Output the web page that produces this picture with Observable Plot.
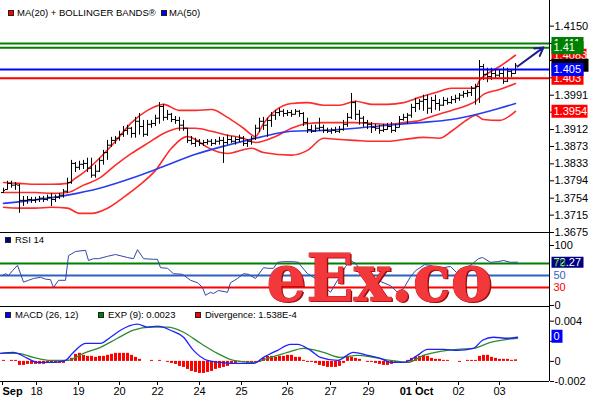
<!DOCTYPE html>
<html><head><meta charset="utf-8">
<script src="https://cdn.jsdelivr.net/npm/d3@7"></script>
<script src="https://cdn.jsdelivr.net/npm/@observablehq/plot@0.6"></script>
<style>
body{margin:0;background:#fff;}
#wrap{position:relative;width:590px;height:400px;overflow:hidden;background:#fff;font-family:"Liberation Sans",Arial,sans-serif;}
.panel{position:absolute;left:0;}
.panel svg{overflow:visible;display:block;}
.leg{position:absolute;font-size:9.5px;line-height:12px;white-space:nowrap;color:#000;font-family:"Liberation Sans",Arial,sans-serif;}
.sq{position:absolute;width:4px;height:4px;border:1px solid #222;}
</style></head>
<body><div id="wrap"></div>
<script>
// ---------- DATA ----------
const open = [1.3767,1.3774,1.3788,1.3784,1.3784,1.3749,1.3749,1.3751,1.3749,1.3751,
1.3754,1.3751,1.3756,1.3751,1.3756,1.3761,1.3770,1.3790,1.3834,1.3825,
1.3832,1.3834,1.3823,1.3807,1.3816,1.3841,1.3859,1.3876,1.3887,1.3892,
1.3901,1.3910,1.3915,1.3903,1.3931,1.3919,1.3901,1.3924,1.3926,1.3938,
1.3965,1.3940,1.3947,1.3935,1.3933,1.3922,1.3915,1.3887,1.3880,1.3885,
1.3880,1.3882,1.3885,1.3880,1.3885,1.3887,1.3882,1.3889,1.3885,1.3889,
1.3892,1.3880,1.3885,1.3892,1.3915,1.3931,1.3922,1.3933,1.3945,1.3951,
1.3954,1.3949,1.3951,1.3947,1.3954,1.3949,1.3928,1.3912,1.3908,1.3915,
1.3917,1.3910,1.3908,1.3910,1.3908,1.3912,1.3924,1.3940,1.3974,1.3947,
1.3938,1.3928,1.3924,1.3917,1.3915,1.3910,1.3912,1.3919,1.3910,1.3917,
1.3935,1.3940,1.3945,1.3963,1.3972,1.3977,1.3981,1.3961,1.3979,1.3972,
1.3968,1.3979,1.3974,1.3981,1.3984,1.3991,1.3995,1.3997,1.4007,1.4011,
1.4057,1.4039,1.4034,1.4041,1.4037,1.4041,1.4023,1.4046,1.4041];
const high = [1.3777,1.3793,1.3793,1.3790,1.3786,1.3758,1.3758,1.3756,1.3756,1.3758,
1.3758,1.3761,1.3765,1.3761,1.3765,1.3774,1.3800,1.3841,1.3836,1.3839,
1.3841,1.3846,1.3846,1.3830,1.3846,1.3864,1.3887,1.3894,1.3896,1.3908,
1.3919,1.3922,1.3917,1.3940,1.3949,1.3933,1.3933,1.3933,1.3945,1.3974,
1.3970,1.3956,1.3949,1.3942,1.3940,1.3933,1.3915,1.3896,1.3892,1.3889,
1.3887,1.3889,1.3889,1.3889,1.3894,1.3894,1.3899,1.3896,1.3894,1.3899,
1.3896,1.3889,1.3896,1.3922,1.3938,1.3940,1.3938,1.3951,1.3956,1.3961,
1.3958,1.3956,1.3956,1.3958,1.3956,1.3951,1.3938,1.3922,1.3922,1.3938,
1.3922,1.3915,1.3915,1.3917,1.3919,1.3933,1.3949,1.3995,1.3977,1.3956,
1.3942,1.3933,1.3928,1.3924,1.3922,1.3924,1.3926,1.3928,1.3924,1.3942,
1.3947,1.3949,1.3970,1.3984,1.3981,1.3991,1.3991,1.3986,1.3991,1.3981,
1.3986,1.3984,1.3988,1.3991,1.3995,1.4000,1.4002,1.4011,1.4016,1.4071,
1.4062,1.4053,1.4053,1.4048,1.4050,1.4055,1.4053,1.4048,1.4064];
const low = [1.3765,1.3772,1.3777,1.3772,1.3719,1.3735,1.3740,1.3742,1.3742,1.3744,
1.3744,1.3747,1.3735,1.3744,1.3751,1.3754,1.3765,1.3786,1.3813,1.3818,
1.3820,1.3813,1.3800,1.3800,1.3813,1.3830,1.3841,1.3871,1.3878,1.3885,
1.3894,1.3899,1.3892,1.3892,1.3899,1.3894,1.3896,1.3915,1.3919,1.3924,
1.3931,1.3933,1.3928,1.3924,1.3908,1.3908,1.3880,1.3876,1.3871,1.3873,
1.3873,1.3876,1.3873,1.3876,1.3876,1.3834,1.3876,1.3880,1.3876,1.3882,
1.3873,1.3871,1.3876,1.3887,1.3905,1.3910,1.3894,1.3917,1.3933,1.3942,
1.3940,1.3942,1.3940,1.3945,1.3940,1.3919,1.3903,1.3903,1.3905,1.3908,
1.3903,1.3903,1.3901,1.3903,1.3903,1.3908,1.3917,1.3935,1.3933,1.3922,
1.3917,1.3912,1.3903,1.3908,1.3901,1.3905,1.3910,1.3903,1.3905,1.3915,
1.3931,1.3924,1.3938,1.3951,1.3956,1.3954,1.3947,1.3949,1.3956,1.3954,
1.3965,1.3968,1.3970,1.3972,1.3977,1.3984,1.3986,1.3988,1.3968,1.3972,
1.4025,1.4020,1.4025,1.4030,1.4032,1.4016,1.4020,1.4032,1.4039];
const close = [1.3772,1.3788,1.3784,1.3786,1.3749,1.3749,1.3751,1.3749,1.3751,1.3754,
1.3751,1.3756,1.3751,1.3756,1.3761,1.3770,1.3790,1.3834,1.3825,1.3832,
1.3834,1.3823,1.3807,1.3816,1.3841,1.3859,1.3876,1.3887,1.3892,1.3901,
1.3910,1.3915,1.3903,1.3931,1.3919,1.3901,1.3924,1.3926,1.3938,1.3965,
1.3940,1.3947,1.3935,1.3933,1.3922,1.3915,1.3887,1.3880,1.3885,1.3880,
1.3882,1.3885,1.3880,1.3885,1.3887,1.3882,1.3889,1.3885,1.3889,1.3892,
1.3880,1.3885,1.3892,1.3915,1.3931,1.3922,1.3933,1.3945,1.3951,1.3954,
1.3949,1.3951,1.3947,1.3954,1.3949,1.3928,1.3912,1.3908,1.3915,1.3917,
1.3910,1.3908,1.3910,1.3908,1.3912,1.3924,1.3940,1.3974,1.3947,1.3938,
1.3928,1.3924,1.3917,1.3915,1.3910,1.3912,1.3919,1.3910,1.3917,1.3935,
1.3940,1.3945,1.3963,1.3972,1.3977,1.3981,1.3961,1.3979,1.3972,1.3968,
1.3979,1.3974,1.3981,1.3984,1.3991,1.3995,1.3997,1.4007,1.4011,1.4057,
1.4039,1.4034,1.4041,1.4037,1.4041,1.4023,1.4046,1.4041,1.4060];

const upperIdx = [0,4,8,12,16,18,20,24,28,32,36,40,44,48,52,56,60,63,65,68,72,76,80,84,88,92,96,100,104,108,112,116,118,119,120,124,128];
const upperBand = [1.3790,1.3788,1.3786,1.3786,1.3788,1.3800,1.3813,1.3846,1.3885,1.3928,1.3956,1.3970,1.3956,1.3956,1.3958,1.3940,1.3915,1.3896,1.3926,1.3956,1.3972,1.3974,1.3968,1.3968,1.3977,1.3970,1.3970,1.3974,1.3986,1.3997,1.4007,1.4007,1.4007,1.4025,1.4034,1.4057,1.4083];
const midIdx = [0,4,8,12,16,20,24,28,32,36,40,44,48,52,56,60,63,68,72,76,80,84,88,92,96,100,104,108,112,116,118,120,124,128];
const ma20 = [1.3767,1.3767,1.3767,1.3765,1.3767,1.3784,1.3800,1.3830,1.3857,1.3880,1.3903,1.3915,1.3915,1.3908,1.3899,1.3892,1.3882,1.3896,1.3915,1.3926,1.3928,1.3928,1.3928,1.3926,1.3924,1.3928,1.3933,1.3945,1.3956,1.3968,1.3977,1.3993,1.4004,1.4018];
const lowerIdx = [0,4,8,12,16,19,22,26,30,34,38,42,46,48,51,56,62,65,72,76,80,84,88,92,96,100,105,109,112,116,118,120,124,128];
const lowerBand = [1.3733,1.3731,1.3731,1.3733,1.3731,1.3719,1.3719,1.3731,1.3756,1.3784,1.3818,1.3869,1.3896,1.3889,1.3871,1.3857,1.3869,1.3859,1.3853,1.3864,1.3892,1.3889,1.3887,1.3885,1.3885,1.3889,1.3894,1.3892,1.3908,1.3935,1.3945,1.3935,1.3933,1.3954];
const ma50Idx = [0,16,24,32,40,48,56,64,72,80,88,96,104,112,116,124,128];
const ma50 = [1.3742,1.3761,1.3777,1.3800,1.3827,1.3855,1.3876,1.3894,1.3908,1.3910,1.3915,1.3922,1.3928,1.3935,1.3942,1.3961,1.3972];

const levels = [1.411, 1.41, 1.405, 1.403];
const trendFrom = [128.5, 1.4057];
const trendTo = [135, 1.4101];

const priceTicks = [1.3675,1.3715,1.3754,1.3794,1.3833,1.3873,1.3912,1.3952,1.3991,1.4031,1.4071,1.4110,1.4150];
const priceTickLabels = ["1.3675","1.3715","1.3754","1.3794","1.3833","1.3873","1.3912","","1.3991","","","","1.4150"];
const priceLabelValues = [1.4083, 1.411, 1.41, 1.403, 1.4060, 1.405, 1.3954];
const priceLabelTexts  = ["1.4083", "1.411", "1.41", "1.403", "", "1.405", "1.3954"];

const rsiIdx = [-0.25,0.5,1.25,2.25,3.5,5,6.25,7.5,9.25,10.5,11.75,12.5,13.75,15.5,16.25,18,20.5,21.25,22.5,23.75,26,28,31,32.5,33.5,35,37.5,38.5,39.25,41,42.5,44.75,46.75,48.5,49.75,50.5,51.75,52.5,53.75,56,56.75,58.5,60,61.25,63,65,66.25,67.5,68.5,70,72.5,73.75,74.25,76,78,79.75,81.75,83.75,85.5,86.75,88,89.75,91.75,94.25,96.75,98.5,100,101.75,103,105.25,106.75,108,110,111.75,113.25,115.5,116.75,118.75,119.75,121.75,123.5,125,126.75,128.5];
const rsi = [50,53,50,58,67,39,42,45,47,44,43,30,42,42,83,90,92,75,78,78,82,85,80,78,93,78,77,77,63,62,53,52,42,38,30,17,22,20,25,22,38,45,53,52,45,63,62,62,72,73,73,72,67,53,45,35,22,45,65,75,70,55,45,40,33,22,28,48,58,68,67,63,63,65,55,63,67,78,80,72,73,75,72,72.27];
const rsiLevels = [70, 50, 30];
const rsiTicks = [0, 100];

const macdIdx = [-0.75,2.5,3.5,6,8.5,12.5,15.5,17.25,20.5,24.25,26.75,29.25,33.5,36,38.5,41.75,45,47.5,51,54.25,57.5,62.5,65,68.5,71.75,73.5,76.75,79.25,83.5,87.5,91,94.25,96.75,100,103.5,106,110,113.5,117.5,119.75,122.5,126,128.5];
const macd = [0.0008,0.0009,0.0008,0.0003,-0.0001,-0.0001,0.0001,0.0008,0.0018,0.0018,0.0024,0.0031,0.0037,0.0034,0.0035,0.0031,0.0024,0.0011,0.0001,-0.0001,-0.0002,-0.0002,0.0004,0.0011,0.0017,0.0017,0.0011,0.0004,0.0001,0.0009,0.0006,0.0003,-0.0001,-0.0001,0.0006,0.0012,0.0012,0.0011,0.0013,0.0021,0.0024,0.0023,0.0024];
const sigIdx = [-0.75,3.5,7.5,11.75,16,20,24.25,28.5,32.5,36.75,41,45,49.25,53.5,57.5,62.5,66,71,75,80,84.25,88.5,92.5,96.75,101,105,109.25,113.5,117.5,121.75,126,128.5];
const signal = [0.0008,0.0008,0.0004,0.0001,0.0001,0.0008,0.0014,0.0023,0.0031,0.0034,0.0034,0.0029,0.0018,0.0008,0.0001,-0.0001,0.0003,0.0009,0.0013,0.0009,0.0004,0.0006,0.0004,0.0001,-0.0001,0.0006,0.0010,0.0012,0.0013,0.0019,0.0022,0.0023];
const divergence = [0.0001,0,0.0001,0.0001,-0.0004,-0.0004,-0.0003,-0.0003,-0.0003,-0.0003,
-0.0003,-0.0002,-0.0002,-0.0002,-0.0002,-0.0002,0.0001,0.0003,0.0007,0.0008,
0.0006,0.0005,0.0005,0.0004,0.0005,0.0005,0.0006,0.0007,0.0008,0.0008,
0.0008,0.0008,0.0006,0.0004,0.0002,0,0,0.0001,0,0.0001,
0,-0.0001,-0.0002,-0.0003,-0.0005,-0.0006,-0.0008,-0.0010,-0.0011,-0.0012,
-0.0012,-0.0011,-0.0010,-0.0008,-0.0007,-0.0006,-0.0005,-0.0003,-0.0002,-0.0001,
-0.0001,-0.0002,-0.0002,-0.0002,-0.0001,0.0003,0.0005,0.0005,0.0004,0.0005,
0.0005,0.0006,0.0006,0.0004,0.0004,0.0001,-0.0001,-0.0001,-0.0002,-0.0004,
-0.0005,-0.0006,-0.0006,-0.0006,-0.0005,-0.0002,0.0004,0.0004,0.0003,0.0002,
0,-0.0001,-0.0001,-0.0002,-0.0003,-0.0004,-0.0004,-0.0003,-0.0002,0,
0,0.0001,0.0003,0.0004,0.0005,0.0006,0.0005,0.0003,0.0002,0.0002,
0.0001,0.0001,0,0,-0.0001,0,0.0001,0.0001,0.0001,0.0005,
0.0006,0.0006,0.0004,0.0003,0.0002,0.0002,0.0002,0.0001,0.0001538];
const macdTicks = [-0.002, 0, 0.002, 0.004];
const macdTickLabels = ["-0.002", "0", "", "0.004"];
const macdLast = 0.0025;

const dateTickIdx = [-0.25, 8.25, 18.75, 29, 38.5, 49, 59.5, 71, 81.75, 91.25, 103.25, 113.75, 124];
const dateTickLabels = ["Sep","18","19","20","22","24","25","26","27","29","01 Oct","02","03"];

const priceLegend = ["MA(20) + BOLLINGER BANDS®", "MA(50)"];
const rsiLegend = ["RSI 14"];
const macdLegend = ["MACD (26, 12)", "EXP (9): 0.0023", "Divergence: 1.538E-4"];
const watermark = "eEx.co";

// ---------- STYLE / LAYOUT ----------
const xDomain = [-0.75, 136.5];
const priceDomain = [1.3675, 1.4209];
const rsiDomain = [-1.67, 121.67];
const macdDomain = [-0.002, 0.00546];
const FONT = "Liberation Sans, Arial, Helvetica, sans-serif";
const svgStyle = {fontFamily: FONT, fontSize: "11px", background: "transparent", overflow: "visible", color: "black"};
const levelColors = ["#008000", "#008000", "#0000ff", "#ff0000"];
const priceLabelColors = ["#ff0000", "#008000", "#008000", "#ff0000", "#000000", "#0000ff", "#ff0000"];
const priceLabelWidths = [35, 32, 32, 32, 37, 32, 36];
const rsiLevelColors = ["#008000", "#3060c0", "#ff0000"];
const BAND = "#ff2a2a";

const wrap = document.getElementById("wrap");
const pts = (idx, vals) => idx.map((x, k) => ({x, y: vals[k]}));
const box = (w, h) => ({draw(ctx) { ctx.moveTo(2, -h / 2); ctx.lineTo(2 + w, -h / 2); ctx.lineTo(2 + w, h / 2); ctx.lineTo(2, h / 2); ctx.closePath(); }});
function place(svg, top) {
  const d = document.createElement("div");
  d.className = "panel"; d.style.top = top + "px";
  d.appendChild(svg); wrap.appendChild(d);
  return svg;
}
function labelMarks(values, texts, colors, widths, h, textColor) {
  const m = [];
  values.forEach((v, k) => {
    m.push(Plot.dot([v], {y: d => d, frameAnchor: "right", symbol: box(widths[k], h), fill: colors[k], stroke: "none"}));
    if (texts[k]) m.push(Plot.text([v], {y: d => d, frameAnchor: "right", text: () => texts[k], textAnchor: "start", dx: 4, fill: textColor, fontSize: 11}));
  });
  return m;
}

const bars = open.map((o, i) => ({i, open: o, high: high[i], low: low[i], close: close[i]}));

// ---------- PRICE PANEL ----------
const priceSvg = Plot.plot({
  width: 590, height: 232, marginTop: 0, marginBottom: 0, marginLeft: 0, marginRight: 41,
  style: svgStyle,
  x: {domain: xDomain, axis: null},
  y: {domain: priceDomain, axis: "right", ticks: priceTicks, tickFormat: d => priceTickLabels[priceTicks.indexOf(d)], tickSize: 4, tickPadding: 1, label: null},
  marks: [
    Plot.ruleY([priceTicks[0]], {stroke: "black"}),
    Plot.ruleX([xDomain[1]], {stroke: "black"}),
    Plot.line(pts(upperIdx, upperBand), {x: "x", y: "y", stroke: BAND, strokeWidth: 1.6, curve: "monotone-x"}),
    Plot.line(pts(midIdx, ma20), {x: "x", y: "y", stroke: BAND, strokeWidth: 1.6, curve: "monotone-x"}),
    Plot.line(pts(lowerIdx, lowerBand), {x: "x", y: "y", stroke: BAND, strokeWidth: 1.6, curve: "monotone-x"}),
    Plot.line(pts(ma50Idx, ma50), {x: "x", y: "y", stroke: "#2a3cf0", strokeWidth: 1.6, curve: "monotone-x"}),
    Plot.ruleX(bars, {x: "i", y1: "low", y2: "high", stroke: "black"}),
    Plot.ruleY(bars, {y: "open", x1: d => d.i - 0.5, x2: "i", stroke: "black"}),
    Plot.ruleY(bars, {y: "close", x1: "i", x2: d => d.i + 0.5, stroke: "black"}),
    ...levels.map((v, k) => Plot.ruleY([v], {stroke: levelColors[k], strokeWidth: 2})),
    Plot.arrow([0], {x1: () => trendFrom[0], y1: () => trendFrom[1], x2: () => trendTo[0], y2: () => trendTo[1], stroke: "#1c1c8c", strokeWidth: 2, headLength: 7}),
    ...labelMarks(priceLabelValues, priceLabelTexts, priceLabelColors, priceLabelWidths, 13, "white")
  ]
});
place(priceSvg, 0);

// ---------- RSI PANEL ----------
const rsiSvg = Plot.plot({
  width: 590, height: 74, marginTop: 0, marginBottom: 0, marginLeft: 0, marginRight: 41,
  style: svgStyle,
  x: {domain: xDomain, axis: null},
  y: {domain: rsiDomain, axis: "right", ticks: rsiTicks, tickFormat: d => String(d), tickSize: 4, tickPadding: 1, label: null},
  marks: [
    Plot.ruleY([rsiDomain[0]], {stroke: "black"}),
    Plot.ruleX([xDomain[1]], {stroke: "black"}),
    ...rsiLevels.map((v, k) => Plot.ruleY([v], {stroke: rsiLevelColors[k], strokeWidth: 2})),
    Plot.line(pts(rsiIdx, rsi), {x: "x", y: "y", stroke: "#3545a5", strokeWidth: 1}),
    Plot.dot([rsi[rsi.length - 1]], {y: d => d, frameAnchor: "right", symbol: box(32, 11), fill: "#000080", stroke: "none"}),
    Plot.text([rsi[rsi.length - 1]], {y: d => d, frameAnchor: "right", text: d => d.toFixed(2), textAnchor: "start", dx: 4, fill: "white", fontSize: 11}),
    ...rsiLevels.map((v, k) => Plot.text([v], {y: d => d, frameAnchor: "right", text: d => String(d), textAnchor: "start", dx: 4, fill: rsiLevelColors[k], fontSize: 11})),
    Plot.text([watermark], {x: () => 94, y: () => 43, text: d => d, dx: 1.5, dy: 1.5, fontSize: 66, fontWeight: "bold", fontFamily: "DejaVu Serif, serif", fill: "#8e0c0c"}),
    Plot.text([watermark], {x: () => 94, y: () => 43, text: d => d, fontSize: 66, fontWeight: "bold", fontFamily: "DejaVu Serif, serif", fill: "#f3383c", stroke: "#c81820", strokeWidth: 1})
  ]
});
place(rsiSvg, 232);

// ---------- MACD PANEL ----------
const macdSvg = Plot.plot({
  width: 590, height: 94, marginTop: 0, marginBottom: 19, marginLeft: 0, marginRight: 41,
  style: svgStyle,
  x: {domain: xDomain, ticks: dateTickIdx, tickFormat: d => dateTickLabels[dateTickIdx.indexOf(d)], tickSize: 4, tickPadding: 2, label: null},
  y: {domain: macdDomain, axis: "right", ticks: macdTicks, tickFormat: d => macdTickLabels[macdTicks.indexOf(d)], tickSize: 4, tickPadding: 1, label: null},
  marks: [
    Plot.ruleY([macdDomain[0]], {stroke: "black"}),
    Plot.ruleX([xDomain[1]], {stroke: "black"}),
    Plot.ruleX(divergence, {x: (d, i) => i, y1: 0, y2: d => d, stroke: "#ff0000", strokeWidth: 3}),
    Plot.line(pts(sigIdx, signal), {x: "x", y: "y", stroke: "#2e8b2e", strokeWidth: 1.3, curve: "monotone-x"}),
    Plot.line(pts(macdIdx, macd), {x: "x", y: "y", stroke: "#2020ff", strokeWidth: 1.3, curve: "monotone-x"}),
    Plot.dot([macdLast], {y: d => d, frameAnchor: "right", symbol: box(11, 13), fill: "#0000ff", stroke: "none"}),
    Plot.text([macdLast], {y: d => d, frameAnchor: "right", text: () => "0", textAnchor: "start", dx: 4, fill: "white", fontSize: 11})
  ]
});
place(macdSvg, 306);

// post-process: fonts and bold date labels, watermark width
[priceSvg, rsiSvg, macdSvg].forEach(svg => {
  d3.select(svg).selectAll("text").each(function () {
    const t = this.textContent;
    if (t === watermark) { this.setAttribute("textLength", 226); this.setAttribute("lengthAdjust", "spacingAndGlyphs"); return; }
    if (!this.getAttribute("font-size")) this.style.fontSize = "11px";
    if (svg === macdSvg && dateTickLabels.includes(t)) {
      if (t === "Sep" || t === "01 Oct") this.style.fontWeight = "bold";
      if (t === "Sep") this.setAttribute("text-anchor", "start");
    }
  });
});

// ---------- LEGENDS ----------
function legendItem(sqX, cy, color, textX, text) {
  const s = document.createElement("div"); s.className = "sq";
  s.style.left = sqX + "px"; s.style.top = (cy - 3) + "px"; s.style.background = color; wrap.appendChild(s);
  const t = document.createElement("div"); t.className = "leg";
  t.style.left = textX + "px"; t.style.top = (cy - 6) + "px"; t.textContent = text; wrap.appendChild(t);
}
legendItem(8, 13, "#ff0000", 17, priceLegend[0]);
legendItem(161, 13, "#0000ff", 169, priceLegend[1]);
legendItem(5, 240, "#000080", 15, rsiLegend[0]);
legendItem(5, 315, "#0000ff", 15, macdLegend[0]);
legendItem(98, 315, "#008000", 108, macdLegend[1]);
legendItem(195, 315, "#ff0000", 205, macdLegend[2]);
</script>
</body></html>
